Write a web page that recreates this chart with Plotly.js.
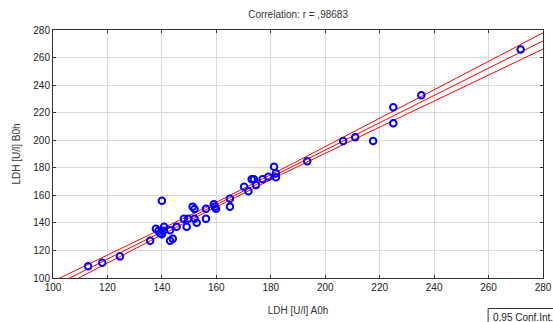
<!DOCTYPE html>
<html>
<head>
<meta charset="utf-8">
<script src="https://cdn.plot.ly/plotly-3.0.1.min.js"></script>
<style>html,body{margin:0;padding:0;background:#fff;}#chart{width:553px;height:322px;}</style>
</head>
<body>
<div id="chart"></div>
<script>
// LDH [U/l] A0h
const ldhA0h = [112.9,118.1,124.6,135.7,137.8,138.7,139.3,140.0,140.0,140.8,140.5,143.0,143.0,144.0,145.4,148.1,149.1,149.7,151.3,152.0,152.0,152.8,156.2,156.2,159.1,159.5,159.9,165.0,165.0,170.2,171.8,173.0,173.8,174.6,177.0,179.1,181.2,181.9,181.9,193.4,206.6,211.0,217.6,225.0,225.0,235.3,271.8];
// LDH [U/l] B0h
const ldhB0h = [108.5,111.1,115.7,127.1,135.8,134.1,132.4,131.7,156.1,137.2,134.3,134.6,127.1,128.5,137.2,143.0,137.2,143.0,151.8,150.1,143.0,140.1,143.0,150.3,153.5,151.8,150.3,157.6,151.8,166.3,162.9,171.6,171.6,167.5,171.6,173.5,180.8,176.0,173.1,184.7,199.4,202.1,199.4,223.9,212.3,232.6,265.9];
const xTicks = [100,120,140,160,180,200,220,240,260,280];
const yTicks = [100,120,140,160,180,200,220,240,260,280];
const tCrit = 2.014; // t(0.975, df=45)

// least-squares fit and 95% confidence band of the mean
const n = ldhA0h.length;
const mx = ldhA0h.reduce((a,b)=>a+b,0)/n;
const my = ldhB0h.reduce((a,b)=>a+b,0)/n;
let sxx=0, sxy=0;
for(let i=0;i<n;i++){sxx+=(ldhA0h[i]-mx)**2; sxy+=(ldhA0h[i]-mx)*(ldhB0h[i]-my);}
const b = sxy/sxx, a = my - b*mx;
let sse=0; for(let i=0;i<n;i++){sse+=(ldhB0h[i]-(a+b*ldhA0h[i]))**2;}
const se = Math.sqrt(sse/(n-2));
const gx=[], fit=[], lo=[], hi=[];
for(let x=95;x<=285;x+=1){
  const f=a+b*x, h=tCrit*se*Math.sqrt(1/n+(x-mx)**2/sxx);
  gx.push(x); fit.push(f); lo.push(f-h); hi.push(f+h);
}
const red={color:'#ff0000',width:1};
const traces=[
  {x:gx,y:hi,mode:'lines',line:red,hoverinfo:'skip'},
  {x:gx,y:fit,mode:'lines',line:red,hoverinfo:'skip'},
  {x:gx,y:lo,mode:'lines',line:red,hoverinfo:'skip'},
  {x:ldhA0h,y:ldhB0h,mode:'markers',marker:{symbol:'circle-open',size:6.5,color:'#0000ff',line:{width:2,color:'#0000ff'}}}
];
const axisCommon={showline:true,mirror:'ticks',linecolor:'#333',linewidth:1,ticks:'inside',ticklen:3,tickcolor:'#333',
  gridcolor:'#d9d9d9',gridwidth:1,zeroline:false,tickfont:{family:'Arial, Liberation Sans, sans-serif',size:10,color:'#222'}};
const layout={
  width:553,height:322,margin:{l:53,r:10,t:30,b:44},
  paper_bgcolor:'#fff',plot_bgcolor:'#fff',showlegend:false,
  title:{text:'Correlation: r = ,98683',x:0.539,xanchor:'center',y:0.955,yanchor:'middle',font:{family:'Arial, Liberation Sans, sans-serif',size:10,color:'#333'}},
  xaxis:Object.assign({},axisCommon,{range:[100,280],tickvals:xTicks,ticktext:xTicks.map(String),
    title:{text:'LDH [U/l] A0h',standoff:14,font:{family:'Arial, Liberation Sans, sans-serif',size:10,color:'#333'}}}),
  yaxis:Object.assign({},axisCommon,{range:[100,280],tickvals:yTicks,ticktext:yTicks.map(String),
    title:{text:'LDH [U/l] B0h',standoff:10,font:{family:'Arial, Liberation Sans, sans-serif',size:10,color:'#333'}}}),
  shapes:[{type:'rect',xref:'paper',yref:'paper',x0:0.888,x1:1.06,y0:-0.123,y1:-0.25,
    line:{color:'#333',width:1},fillcolor:'#fff',layer:'above'}],
  annotations:[{xref:'paper',yref:'paper',x:0.893,y:-0.158,xanchor:'left',yanchor:'middle',showarrow:false,
    text:'0,95 Conf.Int.',font:{family:'Arial, Liberation Sans, sans-serif',size:10,color:'#222'}}]
};
Plotly.newPlot('chart',traces,layout,{displayModeBar:false,staticPlot:true});
</script>
</body>
</html>
